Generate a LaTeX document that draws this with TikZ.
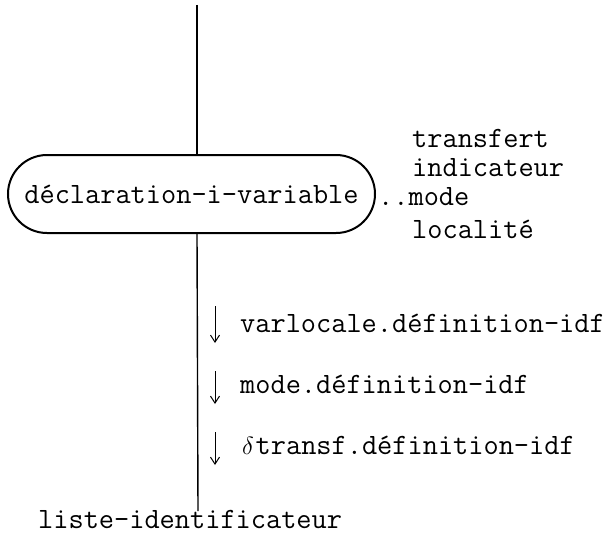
\documentclass[tikz,border=0pt]{standalone}
\usepackage{fontspec}
\usetikzlibrary{arrows.meta}
\newcommand{\tfont}{\ttfamily\fontsize{29.5}{32}\selectfont}
\newcommand{\dlt}{\makebox[0.525em][c]{$\delta$}}
\begin{document}
\begin{tikzpicture}[x=1pt,y=-1pt,
  txt/.style={inner sep=0pt,anchor=west,font=\tfont},
  mainline/.style={line width=1.4pt},
  boxst/.style={draw,line width=2pt,rounded corners=39pt,minimum width=367pt,minimum height=78pt,inner sep=0pt,font=\tfont},
  arr/.style={line width=1pt,-{Straight Barb[length=7pt,width=9pt,line width=1pt]}}]
\useasboundingbox (0,0) rectangle (615,535);
\node[boxst] (box) at (191.5,194) {déclaration-i-variable};
\coordinate (top) at (197,5);
\coordinate (bot) at (198,511);
\draw[mainline] (top) -- (top |- box.north);
\draw[mainline] (top |- box.south) -- (bot);
\node[txt] (t1) at (412,138) {transfert};
\node[txt] (t2) at (412,168) {indicateur};
\node[txt] (t3) at (378,197) {..mode};
\node[txt] (t4) at (412,229) {localité};
\node[txt] (d1) at (240,323) {varlocale.définition-idf};
\node[txt] (d2) at (240,384) {mode.définition-idf};
\node[txt] (d3) at (240,445) {\dlt transf.définition-idf};
\coordinate (a1s) at (215,306); \coordinate (a1e) at (215,343);
\coordinate (a2s) at (215,371); \coordinate (a2e) at (215,404);
\coordinate (a3s) at (215,432); \coordinate (a3e) at (215,465);
\draw[arr] (a1s) -- (a1e);
\draw[arr] (a2s) -- (a2e);
\draw[arr] (a3s) -- (a3e);
\node[txt,anchor=base west] (liste) at (38,528) {liste-identificateur};
\end{tikzpicture}
\end{document}
